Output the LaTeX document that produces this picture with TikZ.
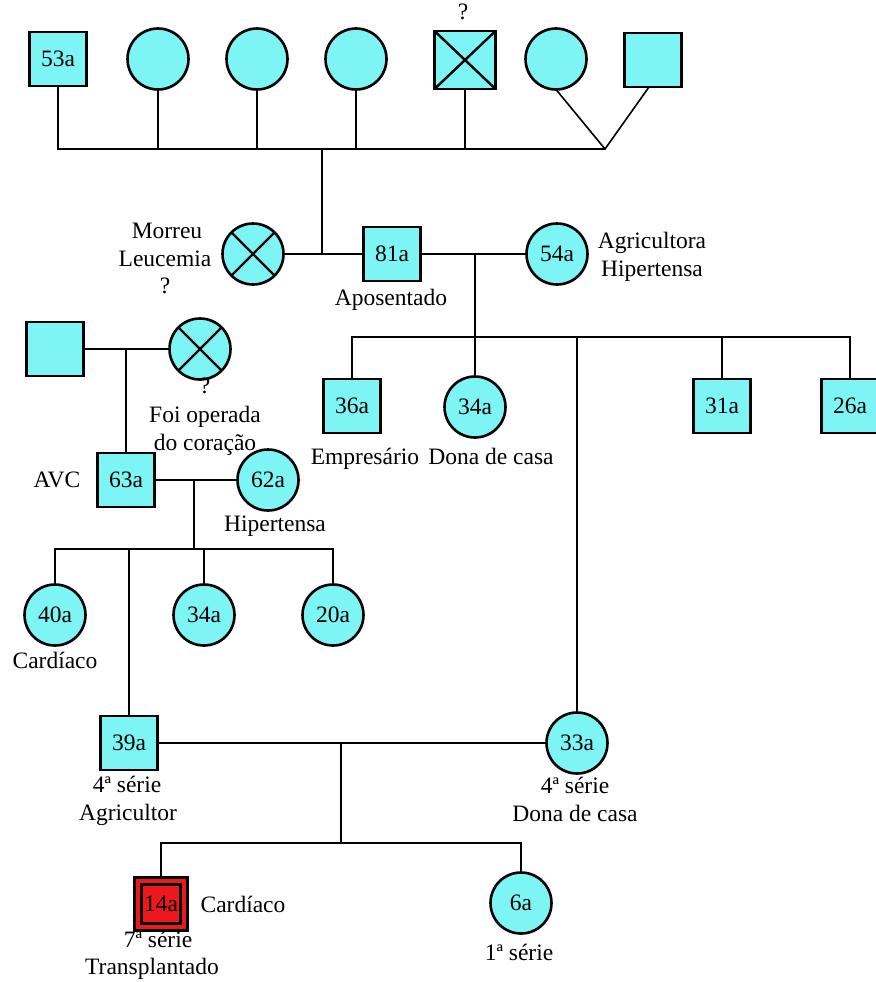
\documentclass[tikz,border=0pt]{standalone}
\usepackage{fontspec}
\setmainfont{Liberation Serif}
\usetikzlibrary{calc}
\definecolor{pedcyan}{RGB}{125,245,245}
\definecolor{pedred}{RGB}{236,24,30}
\begin{document}
\begin{tikzpicture}[x=1pt,y=-1pt,
  every node/.style={font=\fontsize{23.5}{28}\selectfont},
  male/.style={rectangle,draw,fill=pedcyan,line width=2.6pt,minimum width=57pt,minimum height=54pt,inner sep=0pt,outer sep=0pt},
  female/.style={circle,draw,fill=pedcyan,line width=2.6pt,minimum size=61pt,inner sep=0pt,outer sep=0pt},
  lbl/.style={text height=16pt,text depth=5pt,inner sep=0pt},
  link/.style={line width=1.6pt},
  xline/.style={line width=2.4pt}]
\useasboundingbox (0,0) rectangle (875,982);

% ---------- generation I ----------
\node[male]   (g1a) at (58,59)  {53a};
\node[female] (g1b) at (158,59) {};
\node[female] (g1c) at (257,59) {};
\node[female] (g1d) at (356,59) {};
\node[male,minimum width=61pt,minimum height=58pt] (g1e) at (465,60) {};
\draw[xline] (g1e.north west) -- (g1e.south east) (g1e.north east) -- (g1e.south west);
\node[lbl] (q1) at (463,14) {?};
\node[female] (g1f) at (556,59) {};
\node[male]   (g1g) at (653,60) {};

\coordinate (s1) at (605,149);
\coordinate (d1) at (322,149);
\draw[link] (g1a.south) |- (s1);
\foreach \n in {g1b,g1c,g1d,g1e}
  \draw[link] (\n.south) -- (\n.south |- s1);
\draw[link] (g1f.south) -- (s1) -- ($(g1g.south)+(-4,0)$);

% ---------- generation II ----------
\node[female] (leuc) at (253,254) {};
\draw[xline] (leuc.45) -- (leuc.225) (leuc.135) -- (leuc.315);
\node[male]   (a81) at (392,254) {81a};
\node[female] (a54) at (557,254) {54a};

\node[lbl] (tmorreu) at (167,233) {Morreu};
\node[lbl] (tleuc)   at (165,261) {Leucemia};
\node[lbl] (q2)      at (165,288) {?};
\node[lbl] (tapos)   at (391,300) {Aposentado};
\node[lbl] (tagri)   at (652,243) {Agricultora};
\node[lbl] (thip1)   at (652,271) {Hipertensa};

\draw[link] (d1) -- (d1 |- a81);
\draw[link] (leuc.east) -- (a81.west);
\draw[link] (a81.east) -- (a54.west);
\coordinate (d2) at (475,254);
\coordinate (s2) at (475,337);
\draw[link] (d2) -- (s2);

% ---------- generation III (right) ----------
\node[male]   (a36) at (352,406) {36a};
\node[female] (a34) at (475,407) {34a};
\node[male]   (a31) at (722,406) {31a};
\node[male]   (a26) at (850,406) {26a};
\node[lbl] (temp)  at (365,459) {Empresário};
\node[lbl] (tdona) at (491,459) {Dona de casa};

\draw[link] (a36.north) |- (a26.north |- s2) -- (a26.north);
\draw[link] (a34.north) -- (a34.north |- s2);
\draw[link] (a31.north) -- (a31.north |- s2);

% ---------- left family ----------
\node[male]   (pL) at (55,349) {};
\node[female] (pR) at (200,349) {};
\draw[xline] (pR.45) -- (pR.225) (pR.135) -- (pR.315);
\node[lbl] (q3)    at (205,388) {?};
\node[lbl] (tfoi)  at (205,417) {Foi operada};
\node[lbl] (tcor)  at (205,445) {do coração};
\draw[link] (pL.east) -- (pR.west);
\coordinate (d3) at (126,349);

\node[male]   (a63) at (126,480) {63a};
\node[female] (a62) at (268,480) {62a};
\node[lbl] (tavc)  at (57,482)  {AVC};
\node[lbl] (thip2) at (275,526) {Hipertensa};
\draw[link] (d3) -- (a63.north);
\draw[link] (a63.east) -- (a62.west);
\coordinate (d4) at (194,480);
\coordinate (s4) at (194,549);
\draw[link] (d4) -- (s4);

\node[female] (c40) at (55,615)  {40a};
\node[female] (c34) at (204,615) {34a};
\node[female] (c20) at (333,615) {20a};
\node[lbl] (tcard1) at (55,663) {Cardíaco};
\draw[link] (c40.north) |- (c20.north |- s4) -- (c20.north);
\draw[link] (c34.north) -- (c34.north |- s4);

% ---------- generation IV ----------
\node[male]   (a39) at (129,743) {39a};
\node[female] (a33) at (577,743) {33a};
\node[lbl] (tser1) at (127,787) {4ª série};
\node[lbl] (tagr)  at (128,815) {Agricultor};
\node[lbl] (tser2) at (575,788) {4ª série};
\node[lbl] (tdona2) at (575,816) {Dona de casa};
\draw[link] (a39.north) -- (a39.north |- s4);
\draw[link] (a33.north) -- (a33.north |- s2);
\draw[link] (a39.east) -- (a33.west);
\coordinate (d5) at (341,743);
\coordinate (s5) at (341,843);
\draw[link] (d5) -- (s5);

% ---------- generation V ----------
\node[male,fill=pedred,minimum width=53pt,minimum height=53pt] (a14) at (161,904) {14a};
\draw[line width=2.2pt] ($(a14.north west)+(7,7)$) rectangle ($(a14.south east)+(-7,-7)$);
\node[female] (c6) at (521,903) {6a};
\node[lbl] (tcard2) at (243,907) {Cardíaco};
\node[lbl] (tser3)  at (158,942) {7ª série};
\node[lbl] (ttrans) at (152,969) {Transplantado};
\node[lbl] (tser4)  at (519,955) {1ª série};
\draw[link] (a14.north) |- (c6.north |- s5) -- (c6.north);
\end{tikzpicture}
\end{document}
